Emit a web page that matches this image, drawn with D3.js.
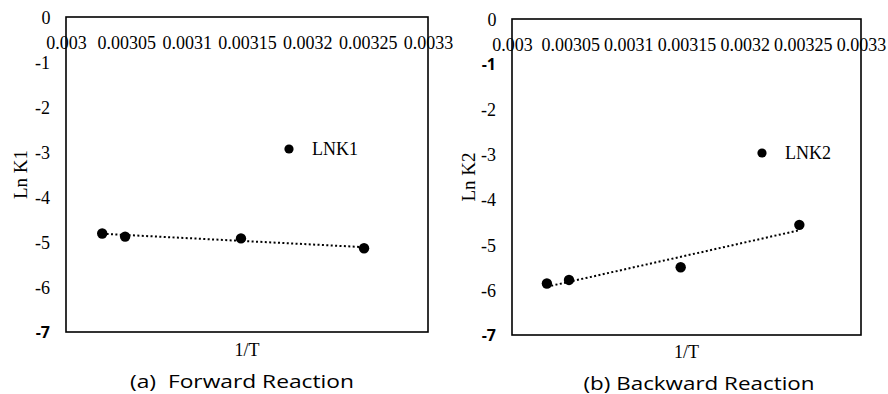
<!DOCTYPE html>
<html>
<head>
<meta charset="utf-8">
<script src="https://cdn.jsdelivr.net/npm/d3@7"></script>
<style>
  html, body { margin: 0; padding: 0; background: #fff; }
  svg { display: block; }
  .serif { font-family: "Liberation Serif", "Times New Roman", Times, Tinos, "DejaVu Serif", "Noto Serif", serif; }
  .sans { font-family: "Open Sans", "Noto Sans", sans-serif; }
</style>
</head>
<body>
<svg id="chart" width="888" height="394"></svg>
<script>
// ---- data ----
const xTicks = [0.003, 0.00305, 0.0031, 0.00315, 0.0032, 0.00325, 0.0033];
const xTickLabels = ["0.003", "0.00305", "0.0031", "0.00315", "0.0032", "0.00325", "0.0033"];
const yTicks = [0, -1, -2, -3, -4, -5, -6, -7];
const invT = [0.00303, 0.003049, 0.003145, 0.003247];
const lnK1 = [-4.81, -4.88, -4.92, -5.14];
const lnK2 = [-5.86, -5.78, -5.50, -4.56];
const seriesNames = ["LNK1", "LNK2"];
const yTitles = ["Ln K1", "Ln K2"];
const xTitle = "1/T";
const captions = ["(a)\u00a0\u00a0Forward Reaction", "(b) Backward Reaction"];

// ---- layout ----
const panels = [
  { x0: 66, x1: 428, y0: 17, y1: 332, values: lnK1, name: seriesNames[0], yTitle: yTitles[0],
    caption: captions[0], capX: 242, capY: 382, capW: 224, legX: 289, legY: 149, yTitleX: 20, xTitleY: 350,
    boldTicks: [-7] },
  { x0: 512, x1: 861, y0: 19, y1: 335, values: lnK2, name: seriesNames[1], yTitle: yTitles[1],
    caption: captions[1], capX: 699, capY: 384, capW: 231, legX: 762, legY: 153, yTitleX: 468, xTitleY: 352,
    boldTicks: [-1, -7] }
];

const svg = d3.select("#chart");
const SERIF = "Liberation Serif, Times New Roman, DejaVu Serif, Noto Serif, serif";

panels.forEach(p => {
  const x = d3.scaleLinear().domain([0.003, 0.0033]).range([p.x0, p.x1]);
  const y = d3.scaleLinear().domain([0, -7]).range([p.y0, p.y1]);
  const g = svg.append("g");

  // box
  g.append("rect")
    .attr("x", p.x0).attr("y", p.y0)
    .attr("width", p.x1 - p.x0).attr("height", p.y1 - p.y0)
    .attr("fill", "none").attr("stroke", "#000").attr("stroke-width", 1.6);

  // x axis (at y = 0, labels below line)
  const xa = g.append("g").attr("transform", `translate(0,${y(0)})`)
    .call(d3.axisBottom(x).tickValues(xTicks).tickSize(0)
      .tickFormat((d, i) => xTickLabels[i]));
  xa.attr("font-family", SERIF);
  xa.select(".domain").remove();
  xa.selectAll("text")
    .attr("class", "serif")
    .style("font-family", SERIF)
    .attr("y", 26).attr("dy", "0.35em")
    .attr("font-size", 18).attr("fill", "#000");

  // y axis
  const ya = g.append("g").attr("transform", `translate(${p.x0},0)`)
    .call(d3.axisLeft(y).tickValues(yTicks).tickSize(0).tickPadding(16)
      .tickFormat(d => String(d)));
  ya.attr("font-family", SERIF);
  ya.select(".domain").remove();
  ya.selectAll("text")
    .attr("class", d => p.boldTicks.includes(d) ? "sans" : "serif")
    .attr("dy", "0.35em")
    .attr("font-weight", d => p.boldTicks.includes(d) ? "bold" : "normal")
    .attr("font-size", d => p.boldTicks.includes(d) ? 16 : 18)
    .attr("fill", "#000");
  ya.selectAll("text").filter(d => d === 0).attr("x", -20).attr("text-anchor", "middle");

  // trendline (least squares)
  const pts = invT.map((t, i) => [t, p.values[i]]);
  const mx = d3.mean(pts, d => d[0]), my = d3.mean(pts, d => d[1]);
  const slope = d3.sum(pts, d => (d[0] - mx) * (d[1] - my)) / d3.sum(pts, d => (d[0] - mx) ** 2);
  const icpt = my - slope * mx;
  const [tMin, tMax] = d3.extent(invT);
  g.append("path")
    .datum([[tMin, icpt + slope * tMin], [tMax, icpt + slope * tMax]])
    .attr("d", d3.line().x(d => x(d[0])).y(d => y(d[1])))
    .attr("stroke", "#000").attr("stroke-width", 2)
    .attr("stroke-dasharray", "2,2.4").attr("fill", "none");

  // points
  g.selectAll("circle.pt").data(pts).join("circle")
    .attr("class", "pt")
    .attr("cx", d => x(d[0])).attr("cy", d => y(d[1])).attr("r", 5.2)
    .attr("fill", "#000");

  // legend
  g.append("circle").attr("cx", p.legX).attr("cy", p.legY).attr("r", 4.6).attr("fill", "#000");
  g.append("text").attr("class", "serif").attr("x", p.legX + 23).attr("y", p.legY).attr("dy", "0.35em")
    .attr("font-size", 18).text(p.name);

  // axis titles
  g.append("text").attr("class", "serif")
    .attr("transform", `translate(${p.yTitleX},${(p.y0 + p.y1) / 2}) rotate(-90)`)
    .attr("text-anchor", "middle").attr("dy", "0.35em")
    .attr("font-size", 19).text(p.yTitle);
  g.append("text").attr("class", "serif")
    .attr("x", (p.x0 + p.x1) / 2).attr("y", p.xTitleY).attr("dy", "0.35em")
    .attr("text-anchor", "middle")
    .attr("font-size", 18).text(xTitle);

  // caption
  g.append("text").attr("class", "sans")
    .attr("x", p.capX - p.capW / 2).attr("y", p.capY).attr("dy", "0.35em")
    .attr("textLength", p.capW).attr("lengthAdjust", "spacingAndGlyphs")
    .attr("font-size", 18).text(p.caption);
});
</script>
</body>
</html>
